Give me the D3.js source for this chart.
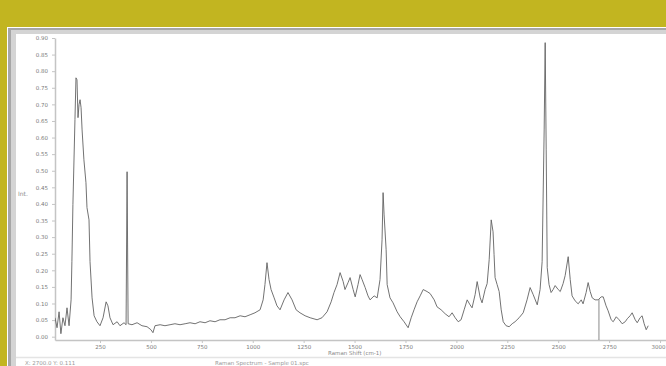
<!DOCTYPE html>
<html>
<head>
<meta charset="utf-8">
<script src="https://cdn.jsdelivr.net/npm/d3@7/dist/d3.min.js"></script>
<style>
  html, body { margin: 0; padding: 0; background: #c2b520; }
  svg { display: block; }
  text { font-family: "DejaVu Sans", sans-serif; }
</style>
</head>
<body>
<svg id="chart" width="666" height="366"></svg>
<script>
// Raman shift (cm-1) of each sample point
const shift = [29,39,49,58,68,78,88,98,108,112,117,127,132,137,142,147,152,157,162,171,181,186,196,201,211,221,235,250,265,280,289,299,314,334,348,368,378,383,388,407,432,456,481,500,510,520,545,569,594,618,643,668,692,717,741,766,790,815,839,864,889,913,938,962,987,1011,1036,1051,1060,1070,1080,1090,1105,1119,1134,1154,1173,1193,1213,1232,1257,1282,1316,1340,1365,1385,1399,1414,1429,1444,1453,1468,1478,1493,1503,1517,1527,1537,1552,1566,1576,1596,1611,1625,1635,1640,1645,1655,1660,1674,1689,1709,1724,1743,1763,1778,1792,1807,1822,1837,1856,1871,1891,1905,1925,1945,1964,1979,1994,2009,2023,2038,2053,2067,2077,2092,2102,2117,2126,2141,2151,2161,2171,2180,2185,2190,2200,2210,2220,2230,2244,2259,2274,2288,2308,2328,2347,2362,2377,2397,2411,2421,2431,2436,2441,2446,2455,2465,2475,2485,2500,2510,2524,2534,2549,2559,2568,2583,2598,2613,2622,2637,2647,2657,2667,2681,2696,2711,2721,2735,2745,2760,2770,2785,2799,2814,2829,2839,2853,2863,2878,2888,2902,2912,2922,2932,2942];
// Measured intensity at each shift
const intensity = [0.057,0.027,0.075,0.009,0.057,0.033,0.087,0.033,0.111,0.226,0.398,0.654,0.780,0.774,0.660,0.699,0.714,0.690,0.623,0.533,0.464,0.389,0.352,0.226,0.117,0.063,0.045,0.033,0.057,0.105,0.093,0.057,0.036,0.045,0.033,0.042,0.036,0.497,0.039,0.036,0.042,0.033,0.030,0.021,0.012,0.033,0.036,0.033,0.036,0.039,0.036,0.039,0.042,0.039,0.045,0.042,0.048,0.045,0.051,0.051,0.057,0.057,0.063,0.060,0.066,0.072,0.081,0.111,0.157,0.223,0.172,0.142,0.117,0.093,0.081,0.111,0.133,0.111,0.081,0.072,0.063,0.057,0.051,0.057,0.075,0.105,0.133,0.157,0.193,0.166,0.142,0.163,0.178,0.142,0.120,0.157,0.187,0.172,0.148,0.123,0.111,0.123,0.117,0.172,0.292,0.434,0.367,0.262,0.157,0.117,0.102,0.075,0.060,0.045,0.027,0.057,0.081,0.105,0.123,0.142,0.136,0.130,0.111,0.090,0.081,0.069,0.060,0.072,0.057,0.045,0.051,0.081,0.111,0.096,0.087,0.127,0.166,0.117,0.102,0.142,0.160,0.232,0.352,0.316,0.247,0.178,0.157,0.136,0.081,0.045,0.033,0.030,0.039,0.045,0.057,0.072,0.111,0.148,0.127,0.096,0.142,0.226,0.623,0.886,0.563,0.208,0.157,0.133,0.142,0.154,0.142,0.136,0.160,0.184,0.241,0.172,0.123,0.108,0.099,0.111,0.099,0.133,0.163,0.136,0.117,0.111,0.111,0.120,0.120,0.093,0.078,0.051,0.045,0.060,0.051,0.039,0.045,0.054,0.063,0.072,0.051,0.042,0.057,0.063,0.039,0.021,0.033];

const xTicks = [250,500,750,1000,1250,1500,1750,2000,2250,2500,2750,3000];
const yTicks = [0,0.05,0.10,0.15,0.20,0.25,0.30,0.35,0.40,0.45,0.50,0.55,0.60,0.65,0.70,0.75,0.80,0.85,0.90];
const cursorShift = [2700];
const xTitle = "Raman Shift (cm-1)";
const yTitle = "Int.";
const statusLeft = "X: 2700.0  Y: 0.111";
const statusCenter = "Raman Spectrum - Sample 01.spc";

const svg = d3.select("#chart");

// window panel on the olive background
svg.append("rect").attr("x", 7).attr("y", 27).attr("width", 670).attr("height", 345).attr("fill", "#ffffff");
svg.append("rect").attr("x", 8).attr("y", 28).attr("width", 670).attr("height", 345).attr("fill", "#a6a6a6");
svg.append("rect").attr("x", 11).attr("y", 30).attr("width", 670).attr("height", 345).attr("fill", "#d4d4d4");
svg.append("rect").attr("x", 16).attr("y", 34).attr("width", 670).attr("height", 345).attr("fill", "#ffffff");
// status bar separator
svg.append("line").attr("x1", 16).attr("x2", 666).attr("y1", 357.5).attr("y2", 357.5)
  .attr("stroke", "#e4e4e4").attr("stroke-width", 1.5);

const x = d3.scaleLinear().domain([29, 3098]).range([55, 680]);
const y = d3.scaleLinear().domain([-0.01, 0.9]).range([340, 38]);

svg.append("defs").append("clipPath").attr("id", "plotClip")
  .append("rect").attr("x", 55).attr("y", 35).attr("width", 620).attr("height", 305);

// axes
const xAxis = d3.axisBottom(x).tickValues(xTicks).tickFormat(d3.format("d")).tickSize(3).tickSizeOuter(0);
const gx = svg.append("g").attr("transform", "translate(0,340)").call(xAxis);
gx.select(".domain").attr("stroke", "#c4c4c4").attr("stroke-width", 1.5);
gx.selectAll(".tick line").attr("stroke", "#c4c4c4");
gx.selectAll(".tick text").attr("fill", "#7a7a7a").attr("font-size", 5.5).attr("dy", "0.5em");
// keep the last label inside the window
gx.selectAll(".tick text").filter(d => d === xTicks[xTicks.length - 1])
  .attr("text-anchor", "end").attr("dx", "0.9em");

const yAxis = d3.axisLeft(y).tickValues(yTicks).tickFormat(d3.format(".2f")).tickSize(3).tickSizeOuter(0);
const gy = svg.append("g").attr("transform", "translate(55,0)").call(yAxis);
gy.select(".domain").attr("stroke", "#c4c4c4").attr("stroke-width", 1.5);
gy.selectAll(".tick line").attr("stroke", "#c4c4c4");
gy.selectAll(".tick text").attr("fill", "#7a7a7a").attr("font-size", 5.5).attr("dx", "-0.2em");

// titles and status text
svg.append("text").attr("x", 18).attr("y", 196).attr("font-size", 6).attr("fill", "#8a8a8a").text(yTitle);
svg.append("text").attr("x", 328).attr("y", 355).attr("font-size", 5.5).attr("fill", "#8a8a8a").text(xTitle);
svg.append("text").attr("x", 25).attr("y", 365).attr("font-size", 5.5).attr("fill", "#9a9a9a").text(statusLeft);
svg.append("text").attr("x", 215).attr("y", 365).attr("font-size", 5.5).attr("fill", "#9a9a9a").text(statusCenter);

// spectrum trace
const pts = shift.map((s, i) => [s, intensity[i]]);
const line = d3.line().x(d => x(d[0])).y(d => y(d[1]));
svg.append("path").datum(pts).attr("clip-path", "url(#plotClip)")
  .attr("d", line).attr("fill", "none").attr("stroke", "#626262").attr("stroke-width", 0.9)
  .attr("stroke-linejoin", "round");

// cursor marker dropped from the trace to the axis
const interp = v => {
  const i = d3.bisectLeft(shift, v);
  const t = (v - shift[i - 1]) / (shift[i] - shift[i - 1]);
  return intensity[i - 1] + t * (intensity[i] - intensity[i - 1]);
};
svg.selectAll(".cursor").data(cursorShift).enter().append("line").attr("class", "cursor")
  .attr("x1", d => x(d)).attr("x2", d => x(d))
  .attr("y1", d => y(interp(d))).attr("y2", 340)
  .attr("stroke", "#8a8a8a").attr("stroke-width", 1);
</script>
</body>
</html>
